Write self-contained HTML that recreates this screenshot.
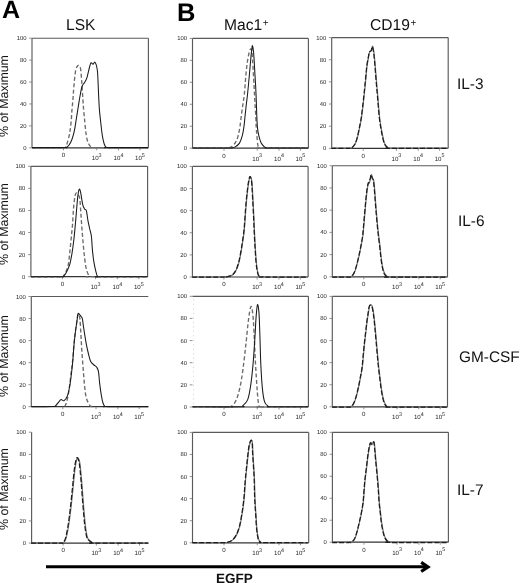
<!DOCTYPE html>
<html><head><meta charset="utf-8">
<style>
html,body{margin:0;padding:0;background:#fff;}
body{width:520px;height:583px;position:relative;overflow:hidden;text-rendering:geometricPrecision;font-family:"Liberation Sans",sans-serif;color:#111;}
.t{position:absolute;white-space:nowrap;line-height:1;will-change:transform;}
.pl{font-weight:bold;font-size:25px;color:#000;}
.hd{font-size:15.6px;}
.hd sup{font-size:10px;vertical-align:0;position:relative;top:-4.1px;margin-left:0.5px;}
.rl{font-size:15.4px;}
.yax{font-size:12.4px;transform-origin:0 0;transform:rotate(-90deg);}
svg{position:absolute;left:0;top:0;will-change:transform;}
.ax{stroke:#5a5a5a;stroke-width:1.15;fill:none;}
.axb{stroke:#333;stroke-width:1.2;fill:none;}
.tk{stroke:#777;stroke-width:0.8;}
.yl{font-family:"Liberation Sans",sans-serif;font-size:5.9px;fill:#262626;text-anchor:end;}
.xl{font-family:"Liberation Sans",sans-serif;font-size:6.1px;fill:#262626;text-anchor:middle;}
.sup{font-size:5.4px;}
.sol{stroke:#1a1a1a;stroke-width:1.05;fill:none;stroke-linejoin:round;}
.dash{stroke:#6a6a6a;stroke-width:1.35;fill:none;stroke-dasharray:4 2.4;}
.solov{stroke:#777;stroke-width:1.2;fill:none;stroke-linejoin:round;}
.dashov{stroke:#1c1c1c;stroke-width:1.25;fill:none;stroke-dasharray:5 2;}
</style></head><body>
<svg width="520" height="583" viewBox="0 0 520 583">
<line x1="32.00" y1="38.20" x2="148.40" y2="38.20" class="ax"/>
<line x1="148.40" y1="38.20" x2="148.40" y2="147.80" class="ax"/>
<line x1="32.00" y1="147.80" x2="148.40" y2="147.80" class="axb"/>
<line x1="32.00" y1="38.20" x2="32.00" y2="147.80" class="ax"/>
<line x1="29.20" y1="147.80" x2="32.00" y2="147.80" class="tk"/>
<text x="26.50" y="149.80" class="yl">0</text>
<line x1="29.20" y1="125.88" x2="32.00" y2="125.88" class="tk"/>
<text x="26.50" y="127.88" class="yl">20</text>
<line x1="29.20" y1="103.96" x2="32.00" y2="103.96" class="tk"/>
<text x="26.50" y="105.96" class="yl">40</text>
<line x1="29.20" y1="82.04" x2="32.00" y2="82.04" class="tk"/>
<text x="26.50" y="84.04" class="yl">60</text>
<line x1="29.20" y1="60.12" x2="32.00" y2="60.12" class="tk"/>
<text x="26.50" y="62.12" class="yl">80</text>
<line x1="29.20" y1="38.20" x2="32.00" y2="38.20" class="tk"/>
<text x="26.50" y="40.20" class="yl">100</text>
<line x1="63.50" y1="147.80" x2="63.50" y2="150.30" class="tk"/>
<text x="63.50" y="157.10" class="xl">0</text>
<line x1="96.70" y1="147.80" x2="96.70" y2="150.30" class="tk"/>
<text x="96.70" y="160.10" class="xl">10<tspan class="sup" dy="-3.3">3</tspan></text>
<line x1="118.50" y1="147.80" x2="118.50" y2="150.30" class="tk"/>
<text x="118.50" y="160.10" class="xl">10<tspan class="sup" dy="-3.3">4</tspan></text>
<line x1="139.90" y1="147.80" x2="139.90" y2="150.30" class="tk"/>
<text x="139.90" y="160.10" class="xl">10<tspan class="sup" dy="-3.3">5</tspan></text>
<path d="M32.00,147.60 C37.17,147.60 57.45,147.63 63.00,147.60 C68.55,147.57 64.60,148.15 65.30,147.40 C66.00,146.65 66.48,145.42 67.20,143.10 C67.92,140.78 68.95,137.03 69.60,133.50 C70.25,129.97 70.70,125.92 71.10,121.90 C71.50,117.88 71.68,113.25 72.00,109.40 C72.32,105.55 72.70,102.43 73.00,98.80 C73.30,95.17 73.38,92.18 73.80,87.60 C74.22,83.02 74.82,74.97 75.50,71.30 C76.18,67.63 77.08,66.15 77.90,65.60 C78.72,65.05 79.78,65.60 80.40,68.00 C81.02,70.40 81.23,75.50 81.60,80.00 C81.97,84.50 82.27,90.10 82.60,95.00 C82.93,99.90 83.23,104.92 83.60,109.40 C83.97,113.88 84.40,117.88 84.80,121.90 C85.20,125.92 85.48,130.13 86.00,133.50 C86.52,136.87 87.10,139.87 87.90,142.10 C88.70,144.33 89.95,145.98 90.80,146.90 C91.65,147.82 83.47,147.48 93.00,147.60 C102.53,147.72 138.83,147.60 148.00,147.60" class="dash"/>
<path d="M32.00,147.60 C37.33,147.60 58.28,147.63 64.00,147.60 C69.72,147.57 65.45,147.83 66.30,147.40 C67.15,146.97 68.15,146.37 69.10,145.00 C70.05,143.63 71.12,141.60 72.00,139.20 C72.88,136.80 73.68,133.97 74.40,130.60 C75.12,127.23 75.65,123.02 76.30,119.00 C76.95,114.98 77.65,110.50 78.30,106.50 C78.95,102.50 79.58,98.33 80.20,95.00 C80.82,91.67 81.30,88.55 82.00,86.50 C82.70,84.45 83.58,84.15 84.40,82.70 C85.22,81.25 86.08,80.25 86.90,77.80 C87.72,75.35 88.63,70.50 89.30,68.00 C89.97,65.50 90.28,63.43 90.90,62.80 C91.52,62.17 92.32,64.28 93.00,64.20 C93.68,64.12 94.28,61.33 95.00,62.30 C95.72,63.27 96.77,66.22 97.30,70.00 C97.83,73.78 97.98,80.83 98.20,85.00 C98.42,89.17 98.40,90.93 98.60,95.00 C98.80,99.07 99.02,104.60 99.40,109.40 C99.78,114.20 100.42,119.47 100.90,123.80 C101.38,128.13 101.75,132.03 102.30,135.40 C102.85,138.77 103.55,142.00 104.20,144.00 C104.85,146.00 105.57,146.80 106.20,147.40 C106.83,148.00 101.03,147.57 108.00,147.60 C114.97,147.63 141.33,147.60 148.00,147.60" class="sol"/>
<line x1="192.50" y1="38.40" x2="308.40" y2="38.40" class="ax"/>
<line x1="308.40" y1="38.40" x2="308.40" y2="148.20" class="ax"/>
<line x1="192.50" y1="148.20" x2="308.40" y2="148.20" class="axb"/>
<line x1="192.50" y1="38.40" x2="192.50" y2="148.20" class="ax"/>
<line x1="189.70" y1="148.20" x2="192.50" y2="148.20" class="tk"/>
<text x="187.00" y="150.20" class="yl">0</text>
<line x1="189.70" y1="126.24" x2="192.50" y2="126.24" class="tk"/>
<text x="187.00" y="128.24" class="yl">20</text>
<line x1="189.70" y1="104.28" x2="192.50" y2="104.28" class="tk"/>
<text x="187.00" y="106.28" class="yl">40</text>
<line x1="189.70" y1="82.32" x2="192.50" y2="82.32" class="tk"/>
<text x="187.00" y="84.32" class="yl">60</text>
<line x1="189.70" y1="60.36" x2="192.50" y2="60.36" class="tk"/>
<text x="187.00" y="62.36" class="yl">80</text>
<line x1="189.70" y1="38.40" x2="192.50" y2="38.40" class="tk"/>
<text x="187.00" y="40.40" class="yl">100</text>
<line x1="224.00" y1="148.20" x2="224.00" y2="150.70" class="tk"/>
<text x="224.00" y="157.50" class="xl">0</text>
<line x1="257.20" y1="148.20" x2="257.20" y2="150.70" class="tk"/>
<text x="257.20" y="160.50" class="xl">10<tspan class="sup" dy="-3.3">3</tspan></text>
<line x1="279.00" y1="148.20" x2="279.00" y2="150.70" class="tk"/>
<text x="279.00" y="160.50" class="xl">10<tspan class="sup" dy="-3.3">4</tspan></text>
<line x1="300.40" y1="148.20" x2="300.40" y2="150.70" class="tk"/>
<text x="300.40" y="160.50" class="xl">10<tspan class="sup" dy="-3.3">5</tspan></text>
<path d="M192.50,148.00 C198.08,148.00 220.13,148.02 226.00,148.00 C231.87,147.98 226.80,148.08 227.70,147.90 C228.60,147.72 230.07,147.85 231.40,146.90 C232.73,145.95 234.57,144.08 235.70,142.20 C236.83,140.32 237.50,138.12 238.20,135.60 C238.90,133.08 239.38,130.40 239.90,127.10 C240.42,123.80 240.80,119.58 241.30,115.80 C241.80,112.02 242.42,107.78 242.90,104.40 C243.38,101.02 243.83,98.70 244.20,95.50 C244.57,92.30 244.80,88.83 245.10,85.20 C245.40,81.57 245.65,77.38 246.00,73.70 C246.35,70.02 246.75,66.30 247.20,63.10 C247.65,59.90 248.18,56.82 248.70,54.50 C249.22,52.18 249.87,50.03 250.30,49.20 C250.73,48.37 251.05,49.27 251.30,49.50 C251.55,49.73 251.60,48.97 251.80,50.60 C252.00,52.23 252.27,55.93 252.50,59.30 C252.73,62.67 252.97,66.80 253.20,70.80 C253.43,74.80 253.67,79.10 253.90,83.30 C254.13,87.50 254.42,92.48 254.60,96.00 C254.78,99.52 254.80,101.10 255.00,104.40 C255.20,107.70 255.60,112.02 255.80,115.80 C256.00,119.58 256.02,123.80 256.20,127.10 C256.38,130.40 256.63,132.62 256.90,135.60 C257.17,138.58 257.48,142.95 257.80,145.00 C258.12,147.05 258.27,147.40 258.80,147.90 C259.33,148.40 252.80,147.98 261.00,148.00 C269.20,148.02 300.17,148.00 308.00,148.00" class="dash"/>
<path d="M192.50,148.00 C198.58,148.00 222.52,148.02 229.00,148.00 C235.48,147.98 230.37,148.08 231.40,147.90 C232.43,147.72 233.85,147.70 235.20,146.90 C236.55,146.10 238.32,144.98 239.50,143.10 C240.68,141.22 241.57,138.27 242.30,135.60 C243.03,132.93 243.43,130.40 243.90,127.10 C244.37,123.80 244.70,119.58 245.10,115.80 C245.50,112.02 245.92,107.78 246.30,104.40 C246.68,101.02 247.00,99.18 247.40,95.50 C247.80,91.82 248.28,86.73 248.70,82.30 C249.12,77.87 249.52,73.22 249.90,68.90 C250.28,64.58 250.65,59.92 251.00,56.40 C251.35,52.88 251.75,49.57 252.00,47.80 C252.25,46.03 252.25,45.17 252.50,45.80 C252.75,46.43 253.22,49.03 253.50,51.60 C253.78,54.17 253.97,57.52 254.20,61.20 C254.43,64.88 254.67,69.70 254.90,73.70 C255.13,77.70 255.40,81.48 255.60,85.20 C255.80,88.92 255.97,92.80 256.10,96.00 C256.23,99.20 256.28,101.10 256.40,104.40 C256.52,107.70 256.63,112.02 256.80,115.80 C256.97,119.58 257.07,123.80 257.40,127.10 C257.73,130.40 258.17,132.93 258.80,135.60 C259.43,138.27 260.25,141.22 261.20,143.10 C262.15,144.98 263.62,146.10 264.50,146.90 C265.38,147.70 265.75,147.72 266.50,147.90 C267.25,148.08 262.08,147.98 269.00,148.00 C275.92,148.02 301.50,148.00 308.00,148.00" class="sol"/>
<line x1="331.70" y1="37.60" x2="448.20" y2="37.60" class="ax"/>
<line x1="448.20" y1="37.60" x2="448.20" y2="148.30" class="ax"/>
<line x1="331.70" y1="148.30" x2="448.20" y2="148.30" class="axb"/>
<line x1="331.70" y1="37.60" x2="331.70" y2="148.30" class="ax"/>
<line x1="328.90" y1="148.30" x2="331.70" y2="148.30" class="tk"/>
<text x="326.20" y="150.30" class="yl">0</text>
<line x1="328.90" y1="126.16" x2="331.70" y2="126.16" class="tk"/>
<text x="326.20" y="128.16" class="yl">20</text>
<line x1="328.90" y1="104.02" x2="331.70" y2="104.02" class="tk"/>
<text x="326.20" y="106.02" class="yl">40</text>
<line x1="328.90" y1="81.88" x2="331.70" y2="81.88" class="tk"/>
<text x="326.20" y="83.88" class="yl">60</text>
<line x1="328.90" y1="59.74" x2="331.70" y2="59.74" class="tk"/>
<text x="326.20" y="61.74" class="yl">80</text>
<line x1="328.90" y1="37.60" x2="331.70" y2="37.60" class="tk"/>
<text x="326.20" y="39.60" class="yl">100</text>
<line x1="363.20" y1="148.30" x2="363.20" y2="150.80" class="tk"/>
<text x="363.20" y="157.60" class="xl">0</text>
<line x1="396.40" y1="148.30" x2="396.40" y2="150.80" class="tk"/>
<text x="396.40" y="160.60" class="xl">10<tspan class="sup" dy="-3.3">3</tspan></text>
<line x1="418.20" y1="148.30" x2="418.20" y2="150.80" class="tk"/>
<text x="418.20" y="160.60" class="xl">10<tspan class="sup" dy="-3.3">4</tspan></text>
<line x1="439.60" y1="148.30" x2="439.60" y2="150.80" class="tk"/>
<text x="439.60" y="160.60" class="xl">10<tspan class="sup" dy="-3.3">5</tspan></text>
<path d="M331.70,148.10 C334.42,148.10 344.67,148.15 348.00,148.10 C351.33,148.05 350.52,148.48 351.70,147.80 C352.88,147.12 354.13,145.75 355.10,144.00 C356.07,142.25 356.78,139.85 357.50,137.30 C358.22,134.75 358.77,131.75 359.40,128.70 C360.03,125.65 360.73,122.53 361.30,119.00 C361.87,115.47 362.32,111.50 362.80,107.50 C363.28,103.50 363.82,98.53 364.20,95.00 C364.58,91.47 364.78,89.47 365.10,86.30 C365.42,83.13 365.77,79.43 366.10,76.00 C366.43,72.57 366.70,68.78 367.10,65.70 C367.50,62.62 368.07,59.82 368.50,57.50 C368.93,55.18 369.20,53.00 369.70,51.80 C370.20,50.60 371.02,51.23 371.50,50.30 C371.98,49.37 372.22,46.03 372.60,46.20 C372.98,46.37 373.43,48.90 373.80,51.30 C374.17,53.70 374.45,56.82 374.80,60.60 C375.15,64.38 375.55,69.72 375.90,74.00 C376.25,78.28 376.60,82.80 376.90,86.30 C377.20,89.80 377.40,91.47 377.70,95.00 C378.00,98.53 378.35,103.50 378.70,107.50 C379.05,111.50 379.37,115.47 379.80,119.00 C380.23,122.53 380.77,125.65 381.30,128.70 C381.83,131.75 382.40,134.75 383.00,137.30 C383.60,139.85 384.02,142.25 384.90,144.00 C385.78,145.75 387.28,147.12 388.30,147.80 C389.32,148.48 381.05,148.05 391.00,148.10 C400.95,148.15 438.50,148.10 448.00,148.10" class="solov"/>
<path d="M331.40,148.40 C334.12,148.40 344.37,148.45 347.70,148.40 C351.03,148.35 350.22,148.78 351.40,148.10 C352.58,147.42 353.83,146.05 354.80,144.30 C355.77,142.55 356.48,140.15 357.20,137.60 C357.92,135.05 358.47,132.05 359.10,129.00 C359.73,125.95 360.43,122.83 361.00,119.30 C361.57,115.77 362.02,111.80 362.50,107.80 C362.98,103.80 363.52,98.83 363.90,95.30 C364.28,91.77 364.48,89.77 364.80,86.60 C365.12,83.43 365.47,79.73 365.80,76.30 C366.13,72.87 366.40,69.08 366.80,66.00 C367.20,62.92 367.77,60.12 368.20,57.80 C368.63,55.48 368.90,53.30 369.40,52.10 C369.90,50.90 370.72,51.53 371.20,50.60 C371.68,49.67 371.92,46.33 372.30,46.50 C372.68,46.67 373.13,49.20 373.50,51.60 C373.87,54.00 374.15,57.12 374.50,60.90 C374.85,64.68 375.25,70.02 375.60,74.30 C375.95,78.58 376.30,83.10 376.60,86.60 C376.90,90.10 377.10,91.77 377.40,95.30 C377.70,98.83 378.05,103.80 378.40,107.80 C378.75,111.80 379.07,115.77 379.50,119.30 C379.93,122.83 380.47,125.95 381.00,129.00 C381.53,132.05 382.10,135.05 382.70,137.60 C383.30,140.15 383.72,142.55 384.60,144.30 C385.48,146.05 386.98,147.42 388.00,148.10 C389.02,148.78 380.75,148.35 390.70,148.40 C400.65,148.45 438.20,148.40 447.70,148.40" class="dashov"/>
<line x1="30.90" y1="166.30" x2="147.60" y2="166.30" class="ax"/>
<line x1="147.60" y1="166.30" x2="147.60" y2="276.70" class="ax"/>
<line x1="30.90" y1="276.70" x2="147.60" y2="276.70" class="axb"/>
<line x1="30.90" y1="166.30" x2="30.90" y2="276.70" class="ax"/>
<line x1="28.10" y1="276.70" x2="30.90" y2="276.70" class="tk"/>
<text x="25.40" y="278.70" class="yl">0</text>
<line x1="28.10" y1="254.62" x2="30.90" y2="254.62" class="tk"/>
<text x="25.40" y="256.62" class="yl">20</text>
<line x1="28.10" y1="232.54" x2="30.90" y2="232.54" class="tk"/>
<text x="25.40" y="234.54" class="yl">40</text>
<line x1="28.10" y1="210.46" x2="30.90" y2="210.46" class="tk"/>
<text x="25.40" y="212.46" class="yl">60</text>
<line x1="28.10" y1="188.38" x2="30.90" y2="188.38" class="tk"/>
<text x="25.40" y="190.38" class="yl">80</text>
<line x1="28.10" y1="166.30" x2="30.90" y2="166.30" class="tk"/>
<text x="25.40" y="168.30" class="yl">100</text>
<line x1="62.40" y1="276.70" x2="62.40" y2="279.20" class="tk"/>
<text x="62.40" y="286.00" class="xl">0</text>
<line x1="95.60" y1="276.70" x2="95.60" y2="279.20" class="tk"/>
<text x="95.60" y="289.00" class="xl">10<tspan class="sup" dy="-3.3">3</tspan></text>
<line x1="117.40" y1="276.70" x2="117.40" y2="279.20" class="tk"/>
<text x="117.40" y="289.00" class="xl">10<tspan class="sup" dy="-3.3">4</tspan></text>
<line x1="138.80" y1="276.70" x2="138.80" y2="279.20" class="tk"/>
<text x="138.80" y="289.00" class="xl">10<tspan class="sup" dy="-3.3">5</tspan></text>
<path d="M30.90,276.70 C35.75,276.70 54.68,276.73 60.00,276.70 C65.32,276.67 61.80,277.37 62.80,276.50 C63.80,275.63 65.08,273.48 66.00,271.50 C66.92,269.52 67.68,267.63 68.30,264.60 C68.92,261.57 69.23,257.53 69.70,253.30 C70.17,249.07 70.63,243.92 71.10,239.20 C71.57,234.48 72.12,229.87 72.50,225.00 C72.88,220.13 73.08,214.17 73.40,210.00 C73.72,205.83 74.07,202.58 74.40,200.00 C74.73,197.42 75.03,195.70 75.40,194.50 C75.77,193.30 76.17,192.80 76.60,192.80 C77.03,192.80 77.48,193.58 78.00,194.50 C78.52,195.42 79.25,195.58 79.70,198.30 C80.15,201.02 80.38,206.52 80.70,210.80 C81.02,215.08 81.27,219.47 81.60,224.00 C81.93,228.53 82.28,233.12 82.70,238.00 C83.12,242.88 83.55,248.38 84.10,253.30 C84.65,258.22 85.18,263.72 86.00,267.50 C86.82,271.28 88.17,274.47 89.00,276.00 C89.83,277.53 81.23,276.58 91.00,276.70 C100.77,276.82 138.17,276.70 147.60,276.70" class="dash"/>
<path d="M30.90,276.70 C35.92,276.70 55.57,276.75 61.00,276.70 C66.43,276.65 62.60,277.15 63.50,276.40 C64.40,275.65 65.37,274.17 66.40,272.20 C67.43,270.23 68.77,267.75 69.70,264.60 C70.63,261.45 71.30,257.53 72.00,253.30 C72.70,249.07 73.35,243.92 73.90,239.20 C74.45,234.48 74.87,229.73 75.30,225.00 C75.73,220.27 76.08,215.57 76.50,210.80 C76.92,206.03 77.35,200.00 77.80,196.40 C78.25,192.80 78.72,189.83 79.20,189.20 C79.68,188.57 80.13,190.12 80.70,192.60 C81.27,195.08 81.97,201.38 82.60,204.10 C83.23,206.82 83.87,207.78 84.50,208.90 C85.13,210.02 85.83,208.88 86.40,210.80 C86.97,212.72 87.38,217.53 87.90,220.40 C88.42,223.27 88.92,225.35 89.50,228.00 C90.08,230.65 90.93,232.87 91.40,236.30 C91.87,239.73 91.92,244.52 92.30,248.60 C92.68,252.68 93.15,257.18 93.70,260.80 C94.25,264.42 94.97,267.70 95.60,270.30 C96.23,272.90 96.85,275.33 97.50,276.40 C98.15,277.47 91.15,276.65 99.50,276.70 C107.85,276.75 139.58,276.70 147.60,276.70" class="sol"/>
<line x1="192.40" y1="166.40" x2="308.10" y2="166.40" class="ax"/>
<line x1="308.10" y1="166.40" x2="308.10" y2="277.00" class="ax"/>
<line x1="192.40" y1="277.00" x2="308.10" y2="277.00" class="axb"/>
<line x1="192.40" y1="166.40" x2="192.40" y2="277.00" class="ax"/>
<line x1="189.60" y1="277.00" x2="192.40" y2="277.00" class="tk"/>
<text x="186.90" y="279.00" class="yl">0</text>
<line x1="189.60" y1="254.88" x2="192.40" y2="254.88" class="tk"/>
<text x="186.90" y="256.88" class="yl">20</text>
<line x1="189.60" y1="232.76" x2="192.40" y2="232.76" class="tk"/>
<text x="186.90" y="234.76" class="yl">40</text>
<line x1="189.60" y1="210.64" x2="192.40" y2="210.64" class="tk"/>
<text x="186.90" y="212.64" class="yl">60</text>
<line x1="189.60" y1="188.52" x2="192.40" y2="188.52" class="tk"/>
<text x="186.90" y="190.52" class="yl">80</text>
<line x1="189.60" y1="166.40" x2="192.40" y2="166.40" class="tk"/>
<text x="186.90" y="168.40" class="yl">100</text>
<line x1="223.90" y1="277.00" x2="223.90" y2="279.50" class="tk"/>
<text x="223.90" y="286.30" class="xl">0</text>
<line x1="257.10" y1="277.00" x2="257.10" y2="279.50" class="tk"/>
<text x="257.10" y="289.30" class="xl">10<tspan class="sup" dy="-3.3">3</tspan></text>
<line x1="278.90" y1="277.00" x2="278.90" y2="279.50" class="tk"/>
<text x="278.90" y="289.30" class="xl">10<tspan class="sup" dy="-3.3">4</tspan></text>
<line x1="300.30" y1="277.00" x2="300.30" y2="279.50" class="tk"/>
<text x="300.30" y="289.30" class="xl">10<tspan class="sup" dy="-3.3">5</tspan></text>
<path d="M192.40,277.00 C197.33,277.00 216.65,277.02 222.00,277.00 C227.35,276.98 223.50,276.97 224.50,276.90 C225.50,276.83 226.60,276.97 228.00,276.60 C229.40,276.23 231.50,275.83 232.90,274.70 C234.30,273.57 235.37,271.95 236.40,269.80 C237.43,267.65 238.32,264.78 239.10,261.80 C239.88,258.82 240.50,255.22 241.10,251.90 C241.70,248.58 242.20,245.22 242.70,241.90 C243.20,238.58 243.75,234.98 244.10,232.00 C244.45,229.02 244.55,227.25 244.80,224.00 C245.05,220.75 245.32,216.32 245.60,212.50 C245.88,208.68 246.18,204.57 246.50,201.10 C246.82,197.63 247.15,194.68 247.50,191.70 C247.85,188.72 248.17,185.72 248.60,183.20 C249.03,180.68 249.58,177.07 250.10,176.60 C250.62,176.13 251.32,178.35 251.70,180.40 C252.08,182.45 252.20,185.92 252.40,188.90 C252.60,191.88 252.72,194.85 252.90,198.30 C253.08,201.75 253.30,205.65 253.50,209.60 C253.70,213.55 253.93,218.27 254.10,222.00 C254.27,225.73 254.35,228.68 254.50,232.00 C254.65,235.32 254.82,238.58 255.00,241.90 C255.18,245.22 255.38,248.58 255.60,251.90 C255.82,255.22 256.02,258.82 256.30,261.80 C256.58,264.78 256.88,267.52 257.30,269.80 C257.72,272.08 258.18,274.32 258.80,275.50 C259.42,276.68 260.13,276.65 261.00,276.90 C261.87,277.15 256.17,276.98 264.00,277.00 C271.83,277.02 300.67,277.00 308.00,277.00" class="solov"/>
<path d="M192.10,277.00 C197.03,277.00 216.35,277.02 221.70,277.00 C227.05,276.98 223.20,276.97 224.20,276.90 C225.20,276.83 226.30,276.97 227.70,276.60 C229.10,276.23 231.20,275.83 232.60,274.70 C234.00,273.57 235.07,271.95 236.10,269.80 C237.13,267.65 238.02,264.78 238.80,261.80 C239.58,258.82 240.20,255.22 240.80,251.90 C241.40,248.58 241.90,245.22 242.40,241.90 C242.90,238.58 243.45,234.98 243.80,232.00 C244.15,229.02 244.25,227.25 244.50,224.00 C244.75,220.75 245.02,216.32 245.30,212.50 C245.58,208.68 245.88,204.57 246.20,201.10 C246.52,197.63 246.85,194.68 247.20,191.70 C247.55,188.72 247.87,185.72 248.30,183.20 C248.73,180.68 249.28,177.07 249.80,176.60 C250.32,176.13 251.02,178.35 251.40,180.40 C251.78,182.45 251.90,185.92 252.10,188.90 C252.30,191.88 252.42,194.85 252.60,198.30 C252.78,201.75 253.00,205.65 253.20,209.60 C253.40,213.55 253.63,218.27 253.80,222.00 C253.97,225.73 254.05,228.68 254.20,232.00 C254.35,235.32 254.52,238.58 254.70,241.90 C254.88,245.22 255.08,248.58 255.30,251.90 C255.52,255.22 255.72,258.82 256.00,261.80 C256.28,264.78 256.58,267.52 257.00,269.80 C257.42,272.08 257.88,274.32 258.50,275.50 C259.12,276.68 259.83,276.65 260.70,276.90 C261.57,277.15 255.87,276.98 263.70,277.00 C271.53,277.02 300.37,277.00 307.70,277.00" class="dashov"/>
<line x1="332.30" y1="165.70" x2="447.50" y2="165.70" class="ax"/>
<line x1="447.50" y1="165.70" x2="447.50" y2="276.80" class="ax"/>
<line x1="332.30" y1="276.80" x2="447.50" y2="276.80" class="axb"/>
<line x1="332.30" y1="165.70" x2="332.30" y2="276.80" class="ax"/>
<line x1="329.50" y1="276.80" x2="332.30" y2="276.80" class="tk"/>
<text x="326.80" y="278.80" class="yl">0</text>
<line x1="329.50" y1="254.58" x2="332.30" y2="254.58" class="tk"/>
<text x="326.80" y="256.58" class="yl">20</text>
<line x1="329.50" y1="232.36" x2="332.30" y2="232.36" class="tk"/>
<text x="326.80" y="234.36" class="yl">40</text>
<line x1="329.50" y1="210.14" x2="332.30" y2="210.14" class="tk"/>
<text x="326.80" y="212.14" class="yl">60</text>
<line x1="329.50" y1="187.92" x2="332.30" y2="187.92" class="tk"/>
<text x="326.80" y="189.92" class="yl">80</text>
<line x1="329.50" y1="165.70" x2="332.30" y2="165.70" class="tk"/>
<text x="326.80" y="167.70" class="yl">100</text>
<line x1="363.80" y1="276.80" x2="363.80" y2="279.30" class="tk"/>
<text x="363.80" y="286.10" class="xl">0</text>
<line x1="397.00" y1="276.80" x2="397.00" y2="279.30" class="tk"/>
<text x="397.00" y="289.10" class="xl">10<tspan class="sup" dy="-3.3">3</tspan></text>
<line x1="418.80" y1="276.80" x2="418.80" y2="279.30" class="tk"/>
<text x="418.80" y="289.10" class="xl">10<tspan class="sup" dy="-3.3">4</tspan></text>
<line x1="440.20" y1="276.80" x2="440.20" y2="279.30" class="tk"/>
<text x="440.20" y="289.10" class="xl">10<tspan class="sup" dy="-3.3">5</tspan></text>
<path d="M332.30,276.80 C334.92,276.80 344.83,276.85 348.00,276.80 C351.17,276.75 350.28,277.12 351.30,276.50 C352.32,275.88 353.23,274.80 354.10,273.10 C354.97,271.40 355.70,269.03 356.50,266.30 C357.30,263.57 358.17,259.90 358.90,256.70 C359.63,253.50 360.25,250.47 360.90,247.10 C361.55,243.73 362.33,239.82 362.80,236.50 C363.27,233.18 363.37,230.90 363.70,227.20 C364.03,223.50 364.43,218.50 364.80,214.30 C365.17,210.10 365.52,205.95 365.90,202.00 C366.28,198.05 366.67,193.78 367.10,190.60 C367.53,187.42 368.10,184.27 368.50,182.90 C368.90,181.53 369.17,183.17 369.50,182.40 C369.83,181.63 370.17,179.63 370.50,178.30 C370.83,176.97 371.15,174.40 371.50,174.40 C371.85,174.40 372.25,177.40 372.60,178.30 C372.95,179.20 373.27,178.08 373.60,179.80 C373.93,181.52 374.27,184.90 374.60,188.60 C374.93,192.30 375.27,197.72 375.60,202.00 C375.93,206.28 376.25,210.22 376.60,214.30 C376.95,218.38 377.33,222.80 377.70,226.50 C378.07,230.20 378.40,233.07 378.80,236.50 C379.20,239.93 379.72,243.73 380.10,247.10 C380.48,250.47 380.70,253.50 381.10,256.70 C381.50,259.90 381.95,263.57 382.50,266.30 C383.05,269.03 383.60,271.40 384.40,273.10 C385.20,274.80 386.37,275.88 387.30,276.50 C388.23,277.12 379.97,276.75 390.00,276.80 C400.03,276.85 437.92,276.80 447.50,276.80" class="solov"/>
<path d="M332.00,277.10 C334.62,277.10 344.53,277.15 347.70,277.10 C350.87,277.05 349.98,277.42 351.00,276.80 C352.02,276.18 352.93,275.10 353.80,273.40 C354.67,271.70 355.40,269.33 356.20,266.60 C357.00,263.87 357.87,260.20 358.60,257.00 C359.33,253.80 359.95,250.77 360.60,247.40 C361.25,244.03 362.03,240.12 362.50,236.80 C362.97,233.48 363.07,231.20 363.40,227.50 C363.73,223.80 364.13,218.80 364.50,214.60 C364.87,210.40 365.22,206.25 365.60,202.30 C365.98,198.35 366.37,194.08 366.80,190.90 C367.23,187.72 367.80,184.57 368.20,183.20 C368.60,181.83 368.87,183.47 369.20,182.70 C369.53,181.93 369.87,179.93 370.20,178.60 C370.53,177.27 370.85,174.70 371.20,174.70 C371.55,174.70 371.95,177.70 372.30,178.60 C372.65,179.50 372.97,178.38 373.30,180.10 C373.63,181.82 373.97,185.20 374.30,188.90 C374.63,192.60 374.97,198.02 375.30,202.30 C375.63,206.58 375.95,210.52 376.30,214.60 C376.65,218.68 377.03,223.10 377.40,226.80 C377.77,230.50 378.10,233.37 378.50,236.80 C378.90,240.23 379.42,244.03 379.80,247.40 C380.18,250.77 380.40,253.80 380.80,257.00 C381.20,260.20 381.65,263.87 382.20,266.60 C382.75,269.33 383.30,271.70 384.10,273.40 C384.90,275.10 386.07,276.18 387.00,276.80 C387.93,277.42 379.67,277.05 389.70,277.10 C399.73,277.15 437.62,277.10 447.20,277.10" class="dashov"/>
<line x1="31.30" y1="296.50" x2="148.30" y2="296.50" class="ax"/>
<line x1="31.30" y1="406.70" x2="148.30" y2="406.70" class="axb"/>
<line x1="31.30" y1="296.50" x2="31.30" y2="406.70" class="ax"/>
<line x1="28.50" y1="406.70" x2="31.30" y2="406.70" class="tk"/>
<text x="25.80" y="408.70" class="yl">0</text>
<line x1="28.50" y1="384.66" x2="31.30" y2="384.66" class="tk"/>
<text x="25.80" y="386.66" class="yl">20</text>
<line x1="28.50" y1="362.62" x2="31.30" y2="362.62" class="tk"/>
<text x="25.80" y="364.62" class="yl">40</text>
<line x1="28.50" y1="340.58" x2="31.30" y2="340.58" class="tk"/>
<text x="25.80" y="342.58" class="yl">60</text>
<line x1="28.50" y1="318.54" x2="31.30" y2="318.54" class="tk"/>
<text x="25.80" y="320.54" class="yl">80</text>
<line x1="28.50" y1="296.50" x2="31.30" y2="296.50" class="tk"/>
<text x="25.80" y="298.50" class="yl">100</text>
<line x1="62.80" y1="406.70" x2="62.80" y2="409.20" class="tk"/>
<text x="62.80" y="416.00" class="xl">0</text>
<line x1="96.00" y1="406.70" x2="96.00" y2="409.20" class="tk"/>
<text x="96.00" y="419.00" class="xl">10<tspan class="sup" dy="-3.3">3</tspan></text>
<line x1="117.80" y1="406.70" x2="117.80" y2="409.20" class="tk"/>
<text x="117.80" y="419.00" class="xl">10<tspan class="sup" dy="-3.3">4</tspan></text>
<line x1="139.20" y1="406.70" x2="139.20" y2="409.20" class="tk"/>
<text x="139.20" y="419.00" class="xl">10<tspan class="sup" dy="-3.3">5</tspan></text>
<path d="M64.80,406.60 C65.12,405.80 66.12,403.82 66.70,401.80 C67.28,399.78 67.80,397.30 68.30,394.50 C68.80,391.70 69.22,388.75 69.70,385.00 C70.18,381.25 70.72,376.00 71.20,372.00 C71.68,368.00 72.15,365.50 72.60,361.00 C73.05,356.50 73.45,349.83 73.90,345.00 C74.35,340.17 74.83,335.75 75.30,332.00 C75.77,328.25 76.32,325.17 76.70,322.50 C77.08,319.83 77.28,317.42 77.60,316.00 C77.92,314.58 78.27,313.92 78.60,314.00 C78.93,314.08 79.32,314.83 79.60,316.50 C79.88,318.17 80.03,320.08 80.30,324.00 C80.57,327.92 80.88,334.67 81.20,340.00 C81.52,345.33 81.83,350.72 82.20,356.00 C82.57,361.28 83.00,366.67 83.40,371.70 C83.80,376.73 84.13,381.92 84.60,386.20 C85.07,390.48 85.47,394.42 86.20,397.40 C86.93,400.38 88.17,402.60 89.00,404.10 C89.83,405.60 90.53,405.98 91.20,406.40 C91.87,406.82 92.70,406.57 93.00,406.60" class="dash"/>
<path d="M31.30,406.60 C34.75,406.60 47.95,406.75 52.00,406.60 C56.05,406.45 54.45,406.50 55.60,405.70 C56.75,404.90 57.98,402.82 58.90,401.80 C59.82,400.78 60.27,399.78 61.10,399.60 C61.93,399.42 62.87,401.27 63.90,400.70 C64.93,400.13 66.37,398.43 67.30,396.20 C68.23,393.97 68.88,390.45 69.50,387.30 C70.12,384.15 70.53,380.83 71.00,377.30 C71.47,373.77 71.98,369.03 72.30,366.10 C72.62,363.17 72.58,363.60 72.90,359.70 C73.22,355.80 73.75,347.57 74.20,342.70 C74.65,337.83 75.13,334.12 75.60,330.50 C76.07,326.88 76.62,323.68 77.00,321.00 C77.38,318.32 77.62,315.65 77.90,314.40 C78.18,313.15 78.30,313.33 78.70,313.50 C79.10,313.67 79.72,314.62 80.30,315.40 C80.88,316.18 81.73,316.78 82.20,318.20 C82.67,319.62 82.72,321.38 83.10,323.90 C83.48,326.42 83.95,329.85 84.50,333.30 C85.05,336.75 85.73,341.15 86.40,344.60 C87.07,348.05 87.78,351.18 88.50,354.00 C89.22,356.82 89.78,359.67 90.70,361.50 C91.62,363.33 92.98,364.03 94.00,365.00 C95.02,365.97 96.05,366.18 96.80,367.30 C97.55,368.42 98.03,369.10 98.50,371.70 C98.97,374.30 99.13,379.00 99.60,382.90 C100.07,386.80 100.73,391.75 101.30,395.10 C101.87,398.45 102.42,401.12 103.00,403.00 C103.58,404.88 104.13,405.80 104.80,406.40 C105.47,407.00 99.75,406.57 107.00,406.60 C114.25,406.63 141.42,406.60 148.30,406.60" class="sol"/>
<line x1="192.50" y1="296.30" x2="308.40" y2="296.30" class="ax"/>
<line x1="308.40" y1="296.30" x2="308.40" y2="407.00" class="ax"/>
<line x1="192.50" y1="407.00" x2="308.40" y2="407.00" class="axb"/>
<line x1="193.50" y1="299.30" x2="193.50" y2="407.00" stroke="#c8c8c8" stroke-width="0.9" stroke-dasharray="1 3.5"/>
<line x1="189.70" y1="407.00" x2="192.50" y2="407.00" class="tk"/>
<text x="187.00" y="409.00" class="yl">0</text>
<line x1="189.70" y1="384.86" x2="192.50" y2="384.86" class="tk"/>
<text x="187.00" y="386.86" class="yl">20</text>
<line x1="189.70" y1="362.72" x2="192.50" y2="362.72" class="tk"/>
<text x="187.00" y="364.72" class="yl">40</text>
<line x1="189.70" y1="340.58" x2="192.50" y2="340.58" class="tk"/>
<text x="187.00" y="342.58" class="yl">60</text>
<line x1="189.70" y1="318.44" x2="192.50" y2="318.44" class="tk"/>
<text x="187.00" y="320.44" class="yl">80</text>
<line x1="189.70" y1="296.30" x2="192.50" y2="296.30" class="tk"/>
<text x="187.00" y="298.30" class="yl">100</text>
<line x1="224.00" y1="407.00" x2="224.00" y2="409.50" class="tk"/>
<text x="224.00" y="416.30" class="xl">0</text>
<line x1="257.20" y1="407.00" x2="257.20" y2="409.50" class="tk"/>
<text x="257.20" y="419.30" class="xl">10<tspan class="sup" dy="-3.3">3</tspan></text>
<line x1="279.00" y1="407.00" x2="279.00" y2="409.50" class="tk"/>
<text x="279.00" y="419.30" class="xl">10<tspan class="sup" dy="-3.3">4</tspan></text>
<line x1="300.40" y1="407.00" x2="300.40" y2="409.50" class="tk"/>
<text x="300.40" y="419.30" class="xl">10<tspan class="sup" dy="-3.3">5</tspan></text>
<path d="M192.50,406.80 C198.58,406.80 222.48,406.88 229.00,406.80 C235.52,406.72 230.38,407.45 231.60,406.30 C232.82,405.15 234.88,403.17 236.30,399.90 C237.72,396.63 239.00,391.73 240.10,386.70 C241.20,381.67 241.95,376.62 242.90,369.70 C243.85,362.78 244.85,353.68 245.80,345.20 C246.75,336.72 247.73,325.25 248.60,318.80 C249.47,312.35 250.28,307.13 251.00,306.50 C251.72,305.87 252.37,310.13 252.90,315.00 C253.43,319.87 253.82,328.47 254.20,335.70 C254.58,342.93 254.78,350.53 255.20,358.40 C255.62,366.27 256.23,375.98 256.70,382.90 C257.17,389.82 257.57,396.00 258.00,399.90 C258.43,403.80 258.80,405.15 259.30,406.30 C259.80,407.45 252.88,406.72 261.00,406.80 C269.12,406.88 300.17,406.80 308.00,406.80" class="dash"/>
<path d="M192.50,406.80 C200.42,406.80 231.60,407.02 240.00,406.80 C248.40,406.58 241.63,406.65 242.90,405.50 C244.17,404.35 246.33,403.03 247.60,399.90 C248.87,396.77 249.62,392.37 250.50,386.70 C251.38,381.03 252.18,373.77 252.90,365.90 C253.62,358.03 254.27,347.67 254.80,339.50 C255.33,331.33 255.65,322.72 256.10,316.90 C256.55,311.08 257.02,305.23 257.50,304.60 C257.98,303.97 258.60,307.92 259.00,313.10 C259.40,318.28 259.60,327.22 259.90,335.70 C260.20,344.18 260.38,355.18 260.80,364.00 C261.22,372.82 261.77,382.30 262.40,388.60 C263.03,394.90 263.60,398.85 264.60,401.80 C265.60,404.75 267.33,405.47 268.40,406.30 C269.47,407.13 264.40,406.72 271.00,406.80 C277.60,406.88 301.83,406.80 308.00,406.80" class="sol"/>
<line x1="332.30" y1="296.40" x2="447.50" y2="296.40" class="ax"/>
<line x1="447.50" y1="296.40" x2="447.50" y2="406.80" class="ax"/>
<line x1="332.30" y1="406.80" x2="447.50" y2="406.80" class="axb"/>
<line x1="332.30" y1="296.40" x2="332.30" y2="406.80" class="ax"/>
<line x1="329.50" y1="406.80" x2="332.30" y2="406.80" class="tk"/>
<text x="326.80" y="408.80" class="yl">0</text>
<line x1="329.50" y1="384.72" x2="332.30" y2="384.72" class="tk"/>
<text x="326.80" y="386.72" class="yl">20</text>
<line x1="329.50" y1="362.64" x2="332.30" y2="362.64" class="tk"/>
<text x="326.80" y="364.64" class="yl">40</text>
<line x1="329.50" y1="340.56" x2="332.30" y2="340.56" class="tk"/>
<text x="326.80" y="342.56" class="yl">60</text>
<line x1="329.50" y1="318.48" x2="332.30" y2="318.48" class="tk"/>
<text x="326.80" y="320.48" class="yl">80</text>
<line x1="329.50" y1="296.40" x2="332.30" y2="296.40" class="tk"/>
<text x="326.80" y="298.40" class="yl">100</text>
<line x1="363.80" y1="406.80" x2="363.80" y2="409.30" class="tk"/>
<text x="363.80" y="416.10" class="xl">0</text>
<line x1="397.00" y1="406.80" x2="397.00" y2="409.30" class="tk"/>
<text x="397.00" y="419.10" class="xl">10<tspan class="sup" dy="-3.3">3</tspan></text>
<line x1="418.80" y1="406.80" x2="418.80" y2="409.30" class="tk"/>
<text x="418.80" y="419.10" class="xl">10<tspan class="sup" dy="-3.3">4</tspan></text>
<line x1="440.20" y1="406.80" x2="440.20" y2="409.30" class="tk"/>
<text x="440.20" y="419.10" class="xl">10<tspan class="sup" dy="-3.3">5</tspan></text>
<path d="M332.30,406.80 C334.92,406.80 344.83,406.87 348.00,406.80 C351.17,406.73 350.35,406.93 351.30,406.40 C352.25,405.87 352.90,405.12 353.70,403.60 C354.50,402.08 355.30,399.95 356.10,397.30 C356.90,394.65 357.78,390.90 358.50,387.70 C359.22,384.50 359.77,381.47 360.40,378.10 C361.03,374.73 361.82,371.02 362.30,367.50 C362.78,363.98 362.93,360.87 363.30,357.00 C363.67,353.13 364.07,348.47 364.50,344.30 C364.93,340.13 365.47,335.77 365.90,332.00 C366.33,328.23 366.67,324.97 367.10,321.70 C367.53,318.43 368.07,315.07 368.50,312.40 C368.93,309.73 369.12,306.82 369.70,305.70 C370.28,304.58 371.40,304.75 372.00,305.70 C372.60,306.65 372.92,309.25 373.30,311.40 C373.68,313.55 373.97,315.68 374.30,318.60 C374.63,321.52 374.95,325.13 375.30,328.90 C375.65,332.67 376.00,336.68 376.40,341.20 C376.80,345.72 377.30,351.62 377.70,356.00 C378.10,360.38 378.40,363.82 378.80,367.50 C379.20,371.18 379.68,374.73 380.10,378.10 C380.52,381.47 380.82,384.50 381.30,387.70 C381.78,390.90 382.40,394.65 383.00,397.30 C383.60,399.95 384.18,402.08 384.90,403.60 C385.62,405.12 386.45,405.87 387.30,406.40 C388.15,406.93 379.97,406.73 390.00,406.80 C400.03,406.87 437.92,406.80 447.50,406.80" class="solov"/>
<path d="M332.00,407.10 C334.62,407.10 344.53,407.17 347.70,407.10 C350.87,407.03 350.05,407.23 351.00,406.70 C351.95,406.17 352.60,405.42 353.40,403.90 C354.20,402.38 355.00,400.25 355.80,397.60 C356.60,394.95 357.48,391.20 358.20,388.00 C358.92,384.80 359.47,381.77 360.10,378.40 C360.73,375.03 361.52,371.32 362.00,367.80 C362.48,364.28 362.63,361.17 363.00,357.30 C363.37,353.43 363.77,348.77 364.20,344.60 C364.63,340.43 365.17,336.07 365.60,332.30 C366.03,328.53 366.37,325.27 366.80,322.00 C367.23,318.73 367.77,315.37 368.20,312.70 C368.63,310.03 368.82,307.12 369.40,306.00 C369.98,304.88 371.10,305.05 371.70,306.00 C372.30,306.95 372.62,309.55 373.00,311.70 C373.38,313.85 373.67,315.98 374.00,318.90 C374.33,321.82 374.65,325.43 375.00,329.20 C375.35,332.97 375.70,336.98 376.10,341.50 C376.50,346.02 377.00,351.92 377.40,356.30 C377.80,360.68 378.10,364.12 378.50,367.80 C378.90,371.48 379.38,375.03 379.80,378.40 C380.22,381.77 380.52,384.80 381.00,388.00 C381.48,391.20 382.10,394.95 382.70,397.60 C383.30,400.25 383.88,402.38 384.60,403.90 C385.32,405.42 386.15,406.17 387.00,406.70 C387.85,407.23 379.67,407.03 389.70,407.10 C399.73,407.17 437.62,407.10 447.20,407.10" class="dashov"/>
<line x1="31.60" y1="543.10" x2="148.50" y2="543.10" class="axb"/>
<line x1="31.60" y1="432.20" x2="31.60" y2="543.10" class="ax"/>
<line x1="28.80" y1="543.10" x2="31.60" y2="543.10" class="tk"/>
<text x="26.10" y="545.10" class="yl">0</text>
<line x1="28.80" y1="520.92" x2="31.60" y2="520.92" class="tk"/>
<text x="26.10" y="522.92" class="yl">20</text>
<line x1="28.80" y1="498.74" x2="31.60" y2="498.74" class="tk"/>
<text x="26.10" y="500.74" class="yl">40</text>
<line x1="28.80" y1="476.56" x2="31.60" y2="476.56" class="tk"/>
<text x="26.10" y="478.56" class="yl">60</text>
<line x1="28.80" y1="454.38" x2="31.60" y2="454.38" class="tk"/>
<text x="26.10" y="456.38" class="yl">80</text>
<line x1="28.80" y1="432.20" x2="31.60" y2="432.20" class="tk"/>
<text x="26.10" y="434.20" class="yl">100</text>
<line x1="63.10" y1="543.10" x2="63.10" y2="545.60" class="tk"/>
<text x="63.10" y="552.40" class="xl">0</text>
<line x1="96.30" y1="543.10" x2="96.30" y2="545.60" class="tk"/>
<text x="96.30" y="555.40" class="xl">10<tspan class="sup" dy="-3.3">3</tspan></text>
<line x1="118.10" y1="543.10" x2="118.10" y2="545.60" class="tk"/>
<text x="118.10" y="555.40" class="xl">10<tspan class="sup" dy="-3.3">4</tspan></text>
<line x1="139.50" y1="543.10" x2="139.50" y2="545.60" class="tk"/>
<text x="139.50" y="555.40" class="xl">10<tspan class="sup" dy="-3.3">5</tspan></text>
<path d="M31.60,543.10 C36.42,543.10 55.25,543.12 60.50,543.10 C65.75,543.08 62.22,543.67 63.10,543.00 C63.98,542.33 64.90,541.85 65.80,539.10 C66.70,536.35 67.65,531.60 68.50,526.50 C69.35,521.40 70.15,514.82 70.90,508.50 C71.65,502.18 72.35,494.92 73.00,488.60 C73.65,482.28 74.20,475.40 74.80,470.60 C75.40,465.80 76.05,461.90 76.60,459.80 C77.15,457.70 77.55,457.40 78.10,458.00 C78.65,458.60 79.30,459.50 79.90,463.40 C80.50,467.30 81.10,474.48 81.70,481.40 C82.30,488.32 82.90,497.68 83.50,504.90 C84.10,512.12 84.65,519.30 85.30,524.70 C85.95,530.10 86.60,534.60 87.40,537.30 C88.20,540.00 89.20,540.00 90.10,540.90 C91.00,541.80 92.05,542.33 92.80,542.70 C93.55,543.07 85.32,543.03 94.60,543.10 C103.88,543.17 139.52,543.10 148.50,543.10" class="solov"/>
<path d="M31.00,543.10 C35.82,543.10 54.65,543.12 59.90,543.10 C65.15,543.08 61.62,543.67 62.50,543.00 C63.38,542.33 64.30,541.85 65.20,539.10 C66.10,536.35 67.05,531.60 67.90,526.50 C68.75,521.40 69.55,514.82 70.30,508.50 C71.05,502.18 71.75,494.92 72.40,488.60 C73.05,482.28 73.60,475.40 74.20,470.60 C74.80,465.80 75.45,461.90 76.00,459.80 C76.55,457.70 76.95,457.40 77.50,458.00 C78.05,458.60 78.70,459.50 79.30,463.40 C79.90,467.30 80.50,474.48 81.10,481.40 C81.70,488.32 82.30,497.68 82.90,504.90 C83.50,512.12 84.05,519.30 84.70,524.70 C85.35,530.10 86.00,534.60 86.80,537.30 C87.60,540.00 88.60,540.00 89.50,540.90 C90.40,541.80 91.45,542.33 92.20,542.70 C92.95,543.07 84.72,543.03 94.00,543.10 C103.28,543.17 138.92,543.10 147.90,543.10" class="dashov"/>
<line x1="192.50" y1="432.40" x2="308.70" y2="432.40" class="ax"/>
<line x1="308.70" y1="432.40" x2="308.70" y2="542.80" class="ax"/>
<line x1="192.50" y1="542.80" x2="308.70" y2="542.80" class="axb"/>
<line x1="192.50" y1="432.40" x2="192.50" y2="542.80" class="ax"/>
<line x1="189.70" y1="542.80" x2="192.50" y2="542.80" class="tk"/>
<text x="187.00" y="544.80" class="yl">0</text>
<line x1="189.70" y1="520.72" x2="192.50" y2="520.72" class="tk"/>
<text x="187.00" y="522.72" class="yl">20</text>
<line x1="189.70" y1="498.64" x2="192.50" y2="498.64" class="tk"/>
<text x="187.00" y="500.64" class="yl">40</text>
<line x1="189.70" y1="476.56" x2="192.50" y2="476.56" class="tk"/>
<text x="187.00" y="478.56" class="yl">60</text>
<line x1="189.70" y1="454.48" x2="192.50" y2="454.48" class="tk"/>
<text x="187.00" y="456.48" class="yl">80</text>
<line x1="189.70" y1="432.40" x2="192.50" y2="432.40" class="tk"/>
<text x="187.00" y="434.40" class="yl">100</text>
<line x1="224.00" y1="542.80" x2="224.00" y2="545.30" class="tk"/>
<text x="224.00" y="552.10" class="xl">0</text>
<line x1="257.20" y1="542.80" x2="257.20" y2="545.30" class="tk"/>
<text x="257.20" y="555.10" class="xl">10<tspan class="sup" dy="-3.3">3</tspan></text>
<line x1="279.00" y1="542.80" x2="279.00" y2="545.30" class="tk"/>
<text x="279.00" y="555.10" class="xl">10<tspan class="sup" dy="-3.3">4</tspan></text>
<line x1="300.40" y1="542.80" x2="300.40" y2="545.30" class="tk"/>
<text x="300.40" y="555.10" class="xl">10<tspan class="sup" dy="-3.3">5</tspan></text>
<path d="M192.50,542.60 C197.58,542.60 217.15,542.65 223.00,542.60 C228.85,542.55 226.00,542.72 227.60,542.30 C229.20,541.88 231.08,541.38 232.60,540.10 C234.12,538.82 235.52,536.87 236.70,534.60 C237.88,532.33 238.87,529.53 239.70,526.50 C240.53,523.47 241.10,519.78 241.70,516.40 C242.30,513.02 242.85,509.58 243.30,506.20 C243.75,502.82 244.12,499.22 244.40,496.10 C244.68,492.98 244.77,490.65 245.00,487.50 C245.23,484.35 245.47,480.83 245.80,477.20 C246.13,473.57 246.62,469.38 247.00,465.70 C247.38,462.02 247.70,458.47 248.10,455.10 C248.50,451.73 248.87,447.98 249.40,445.50 C249.93,443.02 250.78,440.52 251.30,440.20 C251.82,439.88 252.23,441.43 252.50,443.60 C252.77,445.77 252.70,449.52 252.90,453.20 C253.10,456.88 253.45,461.70 253.70,465.70 C253.95,469.70 254.23,473.57 254.40,477.20 C254.57,480.83 254.62,484.35 254.70,487.50 C254.78,490.65 254.78,492.98 254.90,496.10 C255.02,499.22 255.20,502.82 255.40,506.20 C255.60,509.58 255.88,513.02 256.10,516.40 C256.32,519.78 256.45,523.47 256.70,526.50 C256.95,529.53 257.23,532.33 257.60,534.60 C257.97,536.87 258.33,538.82 258.90,540.10 C259.47,541.38 260.15,541.88 261.00,542.30 C261.85,542.72 256.17,542.55 264.00,542.60 C271.83,542.65 300.67,542.60 308.00,542.60" class="solov"/>
<path d="M192.20,542.60 C197.28,542.60 216.85,542.65 222.70,542.60 C228.55,542.55 225.70,542.72 227.30,542.30 C228.90,541.88 230.78,541.38 232.30,540.10 C233.82,538.82 235.22,536.87 236.40,534.60 C237.58,532.33 238.57,529.53 239.40,526.50 C240.23,523.47 240.80,519.78 241.40,516.40 C242.00,513.02 242.55,509.58 243.00,506.20 C243.45,502.82 243.82,499.22 244.10,496.10 C244.38,492.98 244.47,490.65 244.70,487.50 C244.93,484.35 245.17,480.83 245.50,477.20 C245.83,473.57 246.32,469.38 246.70,465.70 C247.08,462.02 247.40,458.47 247.80,455.10 C248.20,451.73 248.57,447.98 249.10,445.50 C249.63,443.02 250.48,440.52 251.00,440.20 C251.52,439.88 251.93,441.43 252.20,443.60 C252.47,445.77 252.40,449.52 252.60,453.20 C252.80,456.88 253.15,461.70 253.40,465.70 C253.65,469.70 253.93,473.57 254.10,477.20 C254.27,480.83 254.32,484.35 254.40,487.50 C254.48,490.65 254.48,492.98 254.60,496.10 C254.72,499.22 254.90,502.82 255.10,506.20 C255.30,509.58 255.58,513.02 255.80,516.40 C256.02,519.78 256.15,523.47 256.40,526.50 C256.65,529.53 256.93,532.33 257.30,534.60 C257.67,536.87 258.03,538.82 258.60,540.10 C259.17,541.38 259.85,541.88 260.70,542.30 C261.55,542.72 255.87,542.55 263.70,542.60 C271.53,542.65 300.37,542.60 307.70,542.60" class="dashov"/>
<line x1="332.40" y1="432.30" x2="448.40" y2="432.30" class="ax"/>
<line x1="448.40" y1="432.30" x2="448.40" y2="542.20" class="ax"/>
<line x1="332.40" y1="542.20" x2="448.40" y2="542.20" class="axb"/>
<line x1="332.40" y1="432.30" x2="332.40" y2="542.20" class="ax"/>
<line x1="329.60" y1="542.20" x2="332.40" y2="542.20" class="tk"/>
<text x="326.90" y="544.20" class="yl">0</text>
<line x1="329.60" y1="520.22" x2="332.40" y2="520.22" class="tk"/>
<text x="326.90" y="522.22" class="yl">20</text>
<line x1="329.60" y1="498.24" x2="332.40" y2="498.24" class="tk"/>
<text x="326.90" y="500.24" class="yl">40</text>
<line x1="329.60" y1="476.26" x2="332.40" y2="476.26" class="tk"/>
<text x="326.90" y="478.26" class="yl">60</text>
<line x1="329.60" y1="454.28" x2="332.40" y2="454.28" class="tk"/>
<text x="326.90" y="456.28" class="yl">80</text>
<line x1="329.60" y1="432.30" x2="332.40" y2="432.30" class="tk"/>
<text x="326.90" y="434.30" class="yl">100</text>
<line x1="363.90" y1="542.20" x2="363.90" y2="544.70" class="tk"/>
<text x="363.90" y="551.50" class="xl">0</text>
<line x1="397.10" y1="542.20" x2="397.10" y2="544.70" class="tk"/>
<text x="397.10" y="554.50" class="xl">10<tspan class="sup" dy="-3.3">3</tspan></text>
<line x1="418.90" y1="542.20" x2="418.90" y2="544.70" class="tk"/>
<text x="418.90" y="554.50" class="xl">10<tspan class="sup" dy="-3.3">4</tspan></text>
<line x1="440.30" y1="542.20" x2="440.30" y2="544.70" class="tk"/>
<text x="440.30" y="554.50" class="xl">10<tspan class="sup" dy="-3.3">5</tspan></text>
<path d="M332.40,542.20 C335.17,542.20 345.78,542.25 349.00,542.20 C352.22,542.15 350.77,542.43 351.70,541.90 C352.63,541.37 353.72,540.60 354.60,539.00 C355.48,537.40 356.20,535.02 357.00,532.30 C357.80,529.58 358.65,525.90 359.40,522.70 C360.15,519.50 360.85,516.47 361.50,513.10 C362.15,509.73 362.85,506.12 363.30,502.50 C363.75,498.88 363.90,495.10 364.20,491.40 C364.50,487.70 364.70,484.20 365.10,480.30 C365.50,476.40 366.15,471.77 366.60,468.00 C367.05,464.23 367.37,460.97 367.80,457.70 C368.23,454.43 368.72,450.90 369.20,448.40 C369.68,445.90 370.18,443.38 370.70,442.70 C371.22,442.02 371.73,444.47 372.30,444.30 C372.87,444.13 373.65,440.85 374.10,441.70 C374.55,442.55 374.70,446.40 375.00,449.40 C375.30,452.40 375.55,455.92 375.90,459.70 C376.25,463.48 376.73,468.15 377.10,472.10 C377.47,476.05 377.82,479.92 378.10,483.40 C378.38,486.88 378.58,489.82 378.80,493.00 C379.02,496.18 379.10,499.15 379.40,502.50 C379.70,505.85 380.22,509.73 380.60,513.10 C380.98,516.47 381.22,519.50 381.70,522.70 C382.18,525.90 382.88,529.73 383.50,532.30 C384.12,534.87 384.60,536.55 385.40,538.10 C386.20,539.65 387.37,540.92 388.30,541.60 C389.23,542.28 381.05,542.10 391.00,542.20 C400.95,542.30 438.50,542.20 448.00,542.20" class="solov"/>
<path d="M332.10,542.50 C334.87,542.50 345.48,542.55 348.70,542.50 C351.92,542.45 350.47,542.73 351.40,542.20 C352.33,541.67 353.42,540.90 354.30,539.30 C355.18,537.70 355.90,535.32 356.70,532.60 C357.50,529.88 358.35,526.20 359.10,523.00 C359.85,519.80 360.55,516.77 361.20,513.40 C361.85,510.03 362.55,506.42 363.00,502.80 C363.45,499.18 363.60,495.40 363.90,491.70 C364.20,488.00 364.40,484.50 364.80,480.60 C365.20,476.70 365.85,472.07 366.30,468.30 C366.75,464.53 367.07,461.27 367.50,458.00 C367.93,454.73 368.42,451.20 368.90,448.70 C369.38,446.20 369.88,443.68 370.40,443.00 C370.92,442.32 371.43,444.77 372.00,444.60 C372.57,444.43 373.35,441.15 373.80,442.00 C374.25,442.85 374.40,446.70 374.70,449.70 C375.00,452.70 375.25,456.22 375.60,460.00 C375.95,463.78 376.43,468.45 376.80,472.40 C377.17,476.35 377.52,480.22 377.80,483.70 C378.08,487.18 378.28,490.12 378.50,493.30 C378.72,496.48 378.80,499.45 379.10,502.80 C379.40,506.15 379.92,510.03 380.30,513.40 C380.68,516.77 380.92,519.80 381.40,523.00 C381.88,526.20 382.58,530.03 383.20,532.60 C383.82,535.17 384.30,536.85 385.10,538.40 C385.90,539.95 387.07,541.22 388.00,541.90 C388.93,542.58 380.75,542.40 390.70,542.50 C400.65,542.60 438.20,542.50 447.70,542.50" class="dashov"/>
<line x1="46" y1="566.8" x2="427" y2="566.8" stroke="#000" stroke-width="2.9"/>
<polyline points="421.2,562.4 428.0,566.9 421.2,571.5" stroke="#000" stroke-width="3.2" fill="none" stroke-linejoin="miter"/>
</svg>
<div class="t pl" style="left:2px;top:-2.5px;">A</div>
<div class="t pl" style="left:176.6px;top:0.6px;font-size:25.5px;">B</div>
<div class="t hd" style="left:66px;top:17.8px;">LSK</div>
<div class="t hd" style="left:224px;top:17.8px;">Mac1<sup>+</sup></div>
<div class="t hd" style="left:370px;top:17.8px;">CD19<sup>+</sup></div>
<div class="t rl" style="left:457px;top:76.7px;">IL-3</div>
<div class="t rl" style="left:458px;top:214.2px;">IL-6</div>
<div class="t rl" style="left:458.5px;top:349.7px;">GM-CSF</div>
<div class="t rl" style="left:456.5px;top:482.7px;">IL-7</div>
<div class="t yax" style="left:-2px;top:137px;">% of Maximum</div>
<div class="t yax" style="left:-2px;top:264.5px;">% of Maximum</div>
<div class="t yax" style="left:-2px;top:396.6px;">% of Maximum</div>
<div class="t yax" style="left:-2px;top:530px;">% of Maximum</div>
<div class="t" style="left:216px;top:572px;font-size:13.5px;font-weight:bold;">EGFP</div>
</body></html>
